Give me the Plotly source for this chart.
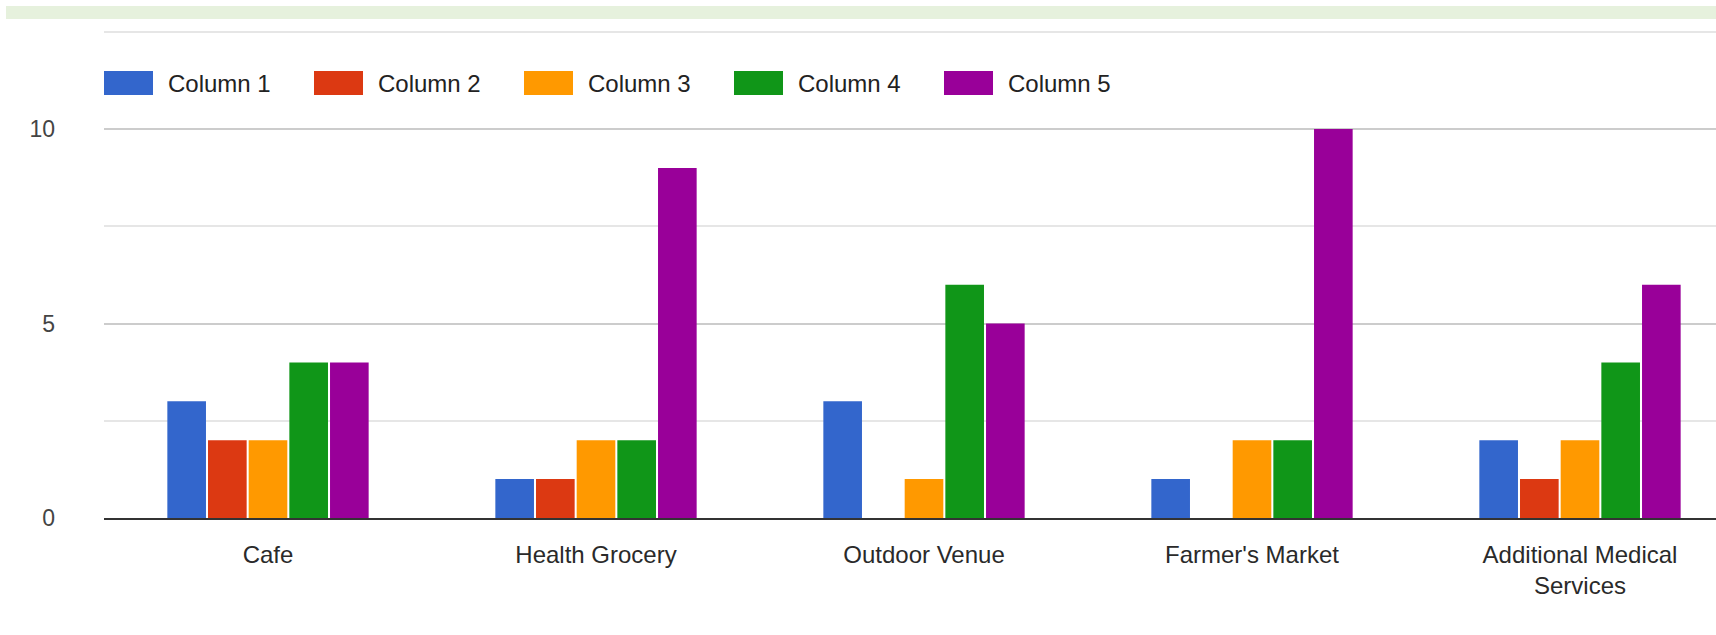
import plotly.graph_objects as go

categories = ["Cafe", "Health Grocery", "Outdoor Venue", "Farmer's Market",
              "Additional Medical<br>Services"]
series_names = ["Column 1", "Column 2", "Column 3", "Column 4", "Column 5"]
col1 = [3, 1, 3, 1, 2]
col2 = [2, 1, 0, 0, 1]
col3 = [2, 2, 1, 2, 2]
col4 = [4, 2, 6, 2, 4]
col5 = [4, 9, 5, 10, 6]
y_tick_vals = [0, 5, 10]
y_minor_vals = [2.5, 7.5, 12.5]

series_values = [col1, col2, col3, col4, col5]
colors = ["#3366cc", "#dc3912", "#ff9900", "#109618", "#990099"]

W, H = 1716, 635
L, R, T, B = 104, 0, 28, 117
PW, PH = W - L - R, H - T - B
Y_MAX = 12.6

fig = go.Figure()
for name, vals, c in zip(series_names, series_values, colors):
    fig.add_trace(go.Bar(x=categories, y=vals, name=name, marker_color=c,
                         marker_line_width=0, showlegend=False))

def px_x(px):
    return (px - L) / PW

def px_y(py):
    return (H - B - py) / PH

# custom legend (large swatches like the original)
shapes = []
annotations = []
item_w, sw_w, sw_h, gap = 210, 49, 24, 13
leg_y = 83
for i, (name, c) in enumerate(zip(series_names, colors)):
    x0 = L + i * item_w
    shapes.append(dict(type="rect", xref="paper", yref="paper",
                       x0=px_x(x0), x1=px_x(x0 + sw_w),
                       y0=px_y(leg_y + sw_h / 2), y1=px_y(leg_y - sw_h / 2),
                       fillcolor=c, line_width=0))
    annotations.append(dict(xref="paper", yref="paper", x=px_x(x0 + sw_w + gap),
                            y=px_y(leg_y), text=name, showarrow=False,
                            xanchor="left", yanchor="middle",
                            font=dict(size=24, color="#222222")))

# light green band at the very top
shapes.append(dict(type="rect", xref="paper", yref="paper",
                   x0=px_x(6), x1=px_x(W), y0=px_y(19), y1=px_y(6),
                   fillcolor="#e6f1dd", line_width=0, layer="below"))

fig.update_layout(
    width=W, height=H,
    margin=dict(l=L, r=R, t=T, b=B, pad=0),
    paper_bgcolor="#ffffff", plot_bgcolor="#ffffff",
    barmode="group", bargap=0.38, bargroupgap=0.05,
    font=dict(family="Liberation Sans, Arial, sans-serif", color="#333333"),
    shapes=shapes, annotations=annotations,
    showlegend=False,
)
fig.update_xaxes(
    type="category", range=[-0.5, -0.5 + PW / 328],
    showgrid=False, showline=True, linecolor="#333333", linewidth=2,
    ticks="", tickfont=dict(size=24, color="#2a2a2a"),
    ticklabelstandoff=14,
)
fig.update_yaxes(
    range=[0, Y_MAX], tickvals=y_tick_vals, ticktext=[str(v) for v in y_tick_vals],
    showgrid=True, gridcolor="#cccccc", gridwidth=1.5,
    zeroline=False, showline=False,
    minor=dict(tickvals=y_minor_vals, showgrid=True, gridcolor="#e6e6e6", gridwidth=1.5),
    tickfont=dict(size=23, color="#444444"), ticklabelstandoff=48,
)

fig.write_html("out.html")
